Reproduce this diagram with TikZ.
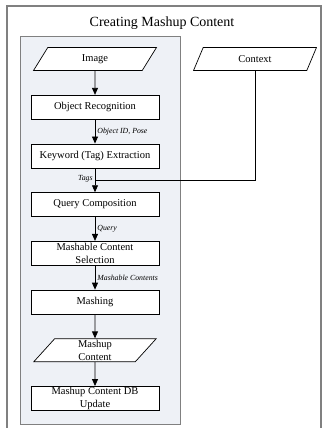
\documentclass[tikz,border=0pt]{standalone}
\usepackage{fontspec}
\setmainfont{Liberation Serif}
\usetikzlibrary{shapes.geometric, arrows.meta, positioning, backgrounds}
\definecolor{framegray}{RGB}{128,128,128}
\definecolor{panelfill}{RGB}{238,241,246}
\tikzset{
  %% ---- boxes ----
  procbox/.style = {rectangle, draw=black, line width=0.7pt, fill=white,
                    minimum width=128pt, minimum height=24pt,
                    inner xsep=1pt, inner ysep=0pt, align=center,
                    font=\fontsize{10.5}{12.5}\selectfont},
  iobox/.style   = {trapezium, trapezium left angle=65, trapezium right angle=115,
                    trapezium stretches=true, draw=black, line width=0.7pt,
                    fill=white, minimum width=123pt, minimum height=23pt,
                    inner xsep=1pt, inner ysep=0pt, align=center,
                    font=\fontsize{10.5}{12.5}\selectfont},
  %% ---- arrows ----
  flow/.style    = {-{Triangle[length=7pt,width=6pt]}, line width=0.8pt},
  flowlbl/.style = {font=\fontsize{7.8}{9}\selectfont\itshape, inner sep=2pt},
}

\begin{document}
\begin{tikzpicture}[x=1pt, y=1pt, node distance=24pt]
\useasboundingbox (0,0) rectangle (323,-428);
% outer frame and title
\draw[framegray, line width=1.5pt] (7,-6) rectangle (321,-440);
\node[font=\fontsize{14}{16}\selectfont] (title) at (162,-23) {Creating Mashup Content};
% main flow
\node[iobox]                   (image)    at (95,-59) {Image};
\node[procbox, below=of image]  (objrec)   {Object Recognition};
\node[procbox, below=of objrec] (keyword)  {Keyword (Tag) Extraction};
\node[procbox, below=of keyword](query)    {Query Composition};
\node[procbox, below=of query]  (select)   {Mashable Content\\Selection};
\node[procbox, below=of select] (mashing)  {Mashing};
\node[iobox,   below=of mashing](mashup)   {Mashup\\Content};
\node[procbox, below=of mashup] (dbupdate) {Mashup Content DB\\Update};
\node[iobox] (context) at (255,-59) {Context};
% shaded panel behind the flow
\begin{scope}[on background layer]
  \draw[framegray, fill=panelfill, line width=1pt] (20,-37) rectangle (180,-424);
\end{scope}
\draw[flow] (image)   -- (objrec);
\draw[flow] (objrec)  -- node[flowlbl, right] {Object ID, Pose} (keyword);
\draw[flow] (keyword) -- coordinate[pos=0.5] (tagjoin)
                         node[flowlbl, left, pos=0.45] {Tags} (query);
\draw[line width=0.8pt] (context) |- (tagjoin);
\draw[flow] (query)   -- node[flowlbl, right] {Query} (select);
\draw[flow] (select)  -- node[flowlbl, right] {Mashable Contents} (mashing);
\draw[flow] (mashing) -- (mashup);
\draw[flow] (mashup)  -- (dbupdate);
\end{tikzpicture}
\end{document}
